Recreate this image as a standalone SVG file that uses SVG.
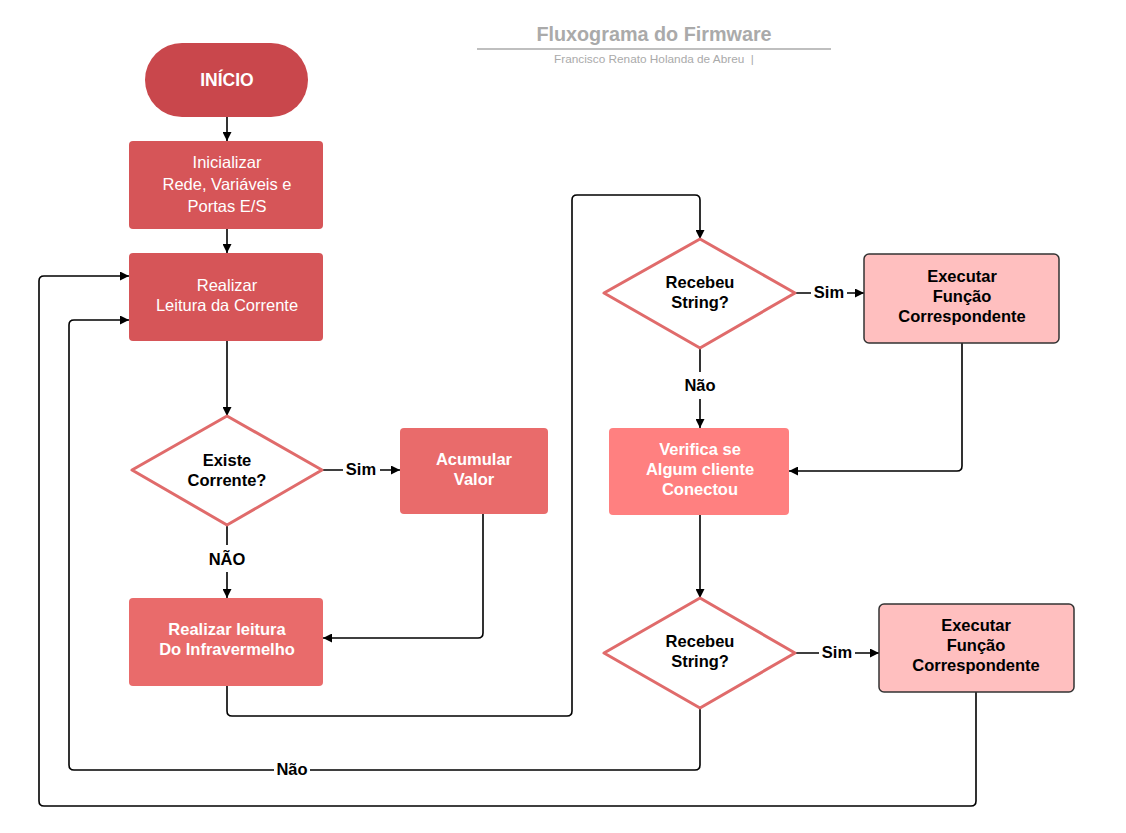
<svg xmlns="http://www.w3.org/2000/svg" width="1126" height="833" viewBox="0 0 1126 833">
<defs>
<marker id="arr" viewBox="0 0 10 10" refX="10" refY="5" markerWidth="11" markerHeight="9" markerUnits="userSpaceOnUse" orient="auto">
<path d="M0,0 L10,5 L0,10 Z" fill="#000"/>
</marker>
<style>
.t{font-family:"Liberation Sans",Arial,sans-serif;text-anchor:middle}
.w{fill:#fff;font-size:16.5px}
.wb{fill:#fff;font-size:16.5px;font-weight:bold}
.kb{fill:#000;font-size:16.5px;font-weight:bold}
.c{fill:none;stroke:#000;stroke-width:1.6;stroke-linejoin:round}
.lbl{fill:#000;font-size:16.5px;font-weight:bold}
.dia{fill:#fff;stroke:#e06b6b;stroke-width:3;stroke-linejoin:round}
.exe{fill:#ffbfbf;stroke:#333;stroke-width:1.5}
</style>
</defs>
<rect width="1126" height="833" fill="#fff"/>

<g id="title">
<text class="t" x="654" y="41" style="font-size:19.8px;font-weight:bold;fill:#aaa">Fluxograma do Firmware</text>
<line x1="477" y1="49" x2="831" y2="49" stroke="#aaa" stroke-width="1.5"/>
<text class="t" x="654" y="63" style="font-size:11.8px;fill:#aaa">Francisco Renato Holanda de Abreu &#160;|</text>
</g>

<g id="connectors">
<path class="c" d="M227,117 V141" marker-end="url(#arr)"/>
<path class="c" d="M227,229 V253" marker-end="url(#arr)"/>
<path class="c" d="M227,341 V416" marker-end="url(#arr)"/>
<path class="c" d="M322,470 H343 M380,470 H400" marker-end="url(#arr)"/>
<path class="c" d="M227,525 V545 M227,572 V598" marker-end="url(#arr)"/>
<path class="c" d="M483,514 V633 Q483,638 478,638 H323" marker-end="url(#arr)"/>
<path class="c" d="M227,686 V711 Q227,716 232,716 H567 Q572,716 572,711 V200 Q572,195 577,195 H695 Q700,195 700,200 V239" marker-end="url(#arr)"/>
<path class="c" d="M795,293 H811 M847,293 H864" marker-end="url(#arr)"/>
<path class="c" d="M700,348 V372 M700,399 V428" marker-end="url(#arr)"/>
<path class="c" d="M962,343 V466 Q962,471 957,471 H789" marker-end="url(#arr)"/>
<path class="c" d="M700,515 V598" marker-end="url(#arr)"/>
<path class="c" d="M795,653 H819 M855,653 H879" marker-end="url(#arr)"/>
<path class="c" d="M700,708 V765 Q700,770 695,770 H310 M274,770 H74 Q69,770 69,765 V325 Q69,320 74,320 H129" marker-end="url(#arr)"/>
<path class="c" d="M976,692 V801 Q976,806 971,806 H44 Q39,806 39,801 V281 Q39,276 44,276 H129" marker-end="url(#arr)"/>
<text class="t lbl" x="361" y="475">Sim</text>
<text class="t lbl" x="227" y="565">NÃO</text>
<text class="t lbl" x="829" y="298">Sim</text>
<text class="t lbl" x="700" y="391">Não</text>
<text class="t lbl" x="837" y="658">Sim</text>
<text class="t lbl" x="292" y="775">Não</text>
</g>

<g id="inicio">
<rect x="145" y="43" width="163" height="74" rx="37" fill="#c9474c"/>
<text class="t wb" x="227" y="86" style="font-size:17.5px">INÍCIO</text>
</g>

<g id="inicializar">
<rect x="129" y="141" width="194" height="88" rx="4" fill="#d65558"/>
<text class="t w" x="227" y="168">Inicializar</text>
<text class="t w" x="227" y="190">Rede, Variáveis e</text>
<text class="t w" x="227" y="212">Portas E/S</text>
</g>

<g id="leitura-corrente">
<rect x="129" y="253" width="194" height="88" rx="4" fill="#d65558"/>
<text class="t w" x="227" y="291">Realizar</text>
<text class="t w" x="227" y="311">Leitura da Corrente</text>
</g>

<g id="existe-corrente">
<polygon class="dia" points="227,416 322,470 227,525 132,470"/>
<text class="t kb" x="227" y="466">Existe</text>
<text class="t kb" x="227" y="486">Corrente?</text>
</g>

<g id="acumular">
<rect x="400" y="428" width="148" height="86" rx="4" fill="#e96b6b"/>
<text class="t wb" x="474" y="465">Acumular</text>
<text class="t wb" x="474" y="485">Valor</text>
</g>

<g id="infravermelho">
<rect x="129" y="598" width="194" height="88" rx="4" fill="#e96b6b"/>
<text class="t wb" x="227" y="635">Realizar leitura</text>
<text class="t wb" x="227" y="655">Do Infravermelho</text>
</g>

<g id="recebeu-1">
<polygon class="dia" points="700,239 795,293 700,348 604,293"/>
<text class="t kb" x="700" y="288">Recebeu</text>
<text class="t kb" x="700" y="308">String?</text>
</g>

<g id="executar-1">
<rect class="exe" x="864" y="254" width="195" height="89" rx="5"/>
<text class="t kb" x="962" y="282">Executar</text>
<text class="t kb" x="962" y="302">Função</text>
<text class="t kb" x="962" y="322">Correspondente</text>
</g>

<g id="verifica">
<rect x="609" y="428" width="180" height="87" rx="4" fill="#ff8080"/>
<text class="t wb" x="700" y="455">Verifica se</text>
<text class="t wb" x="700" y="475">Algum cliente</text>
<text class="t wb" x="700" y="495">Conectou</text>
</g>

<g id="recebeu-2">
<polygon class="dia" points="700,598 795,653 700,708 604,653"/>
<text class="t kb" x="700" y="647">Recebeu</text>
<text class="t kb" x="700" y="667">String?</text>
</g>

<g id="executar-2">
<rect class="exe" x="879" y="604" width="195" height="88" rx="5"/>
<text class="t kb" x="976" y="631">Executar</text>
<text class="t kb" x="976" y="651">Função</text>
<text class="t kb" x="976" y="671">Correspondente</text>
</g>
</svg>
